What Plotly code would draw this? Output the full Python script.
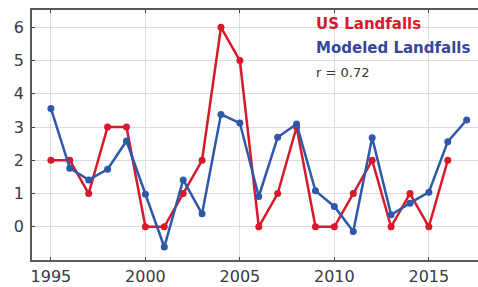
import plotly.graph_objects as go

years_us = list(range(1995, 2017))
us_landfalls = [2, 2, 1, 3, 3, 0, 0, 1, 2, 6, 5, 0, 1, 3, 0, 0, 1, 2, 0, 1, 0, 2]

years_model = list(range(1995, 2018))
modeled_landfalls = [3.56, 1.76, 1.41, 1.73, 2.58, 0.98, -0.61, 1.41, 0.39, 3.38, 3.12,
                     0.91, 2.69, 3.09, 1.08, 0.61, -0.14, 2.68, 0.36, 0.71, 1.04, 2.56, 3.21]

x_ticks = [1995, 2000, 2005, 2010, 2015]
y_ticks = [0, 1, 2, 3, 4, 5, 6]

RED = "#d7192b"
BLUE = "#2f58a8"

fig = go.Figure()
fig.add_trace(go.Scatter(x=years_us, y=us_landfalls, mode="lines+markers",
                         line=dict(color=RED, width=2.5), marker=dict(color=RED, size=7),
                         name="US Landfalls", cliponaxis=False))
fig.add_trace(go.Scatter(x=years_model, y=modeled_landfalls, mode="lines+markers",
                         line=dict(color=BLUE, width=2.5), marker=dict(color=BLUE, size=7),
                         name="Modeled Landfalls", cliponaxis=False))

fig.update_layout(
    width=478, height=287,
    margin=dict(l=32, r=0, t=10, b=27, autoexpand=False),
    paper_bgcolor="white", plot_bgcolor="white",
    showlegend=False,
    font=dict(family="DejaVu Sans", size=14, color="#3a3a3a"),
)
fig.update_xaxes(range=[1994, 2017.6], tickvals=x_ticks, showgrid=True, gridcolor="#dcdcdc",
                 gridwidth=1, showline=True, linecolor="#5a5a5a", linewidth=1.5,
                 mirror="ticks", ticks="inside", ticklen=3, tickcolor="#444444",
                 zeroline=False, automargin=False, ticklabelstandoff=1,
                 tickfont=dict(size=16, color="#3a3a3a"))
fig.update_yaxes(range=[-1, 6.52], tickvals=y_ticks, showgrid=True, gridcolor="#dcdcdc",
                 gridwidth=1, showline=True, linecolor="#5a5a5a", linewidth=1.5,
                 ticks="inside", ticklen=3, tickcolor="#444444",
                 zeroline=False, automargin=False, ticklabelstandoff=3,
                 tickfont=dict(size=16, color="#3a3a3a"))


def px_x(p):
    return (p - 32) / (478 - 32)


def px_y(p):
    return 1 - (p - 10) / (287 - 10 - 27)


fig.add_annotation(x=px_x(314), y=px_y(24), xref="paper", yref="paper", xanchor="left",
                   yanchor="middle", showarrow=False, text="<b>US Landfalls</b>",
                   font=dict(family="DejaVu Sans", size=15, color=RED))
fig.add_annotation(x=px_x(314), y=px_y(48), xref="paper", yref="paper", xanchor="left",
                   yanchor="middle", showarrow=False, text="<b>Modeled Landfalls</b>",
                   font=dict(family="DejaVu Sans", size=15, color="#34479c"))
fig.add_annotation(x=px_x(314), y=px_y(72), xref="paper", yref="paper", xanchor="left",
                   yanchor="middle", showarrow=False, text="r = 0.72",
                   font=dict(family="DejaVu Sans", size=13, color="#333333"))

fig.write_html("out.html", config={"displayModeBar": False},
               post_script="document.body.style.margin='0';document.body.style.overflow='hidden';")
